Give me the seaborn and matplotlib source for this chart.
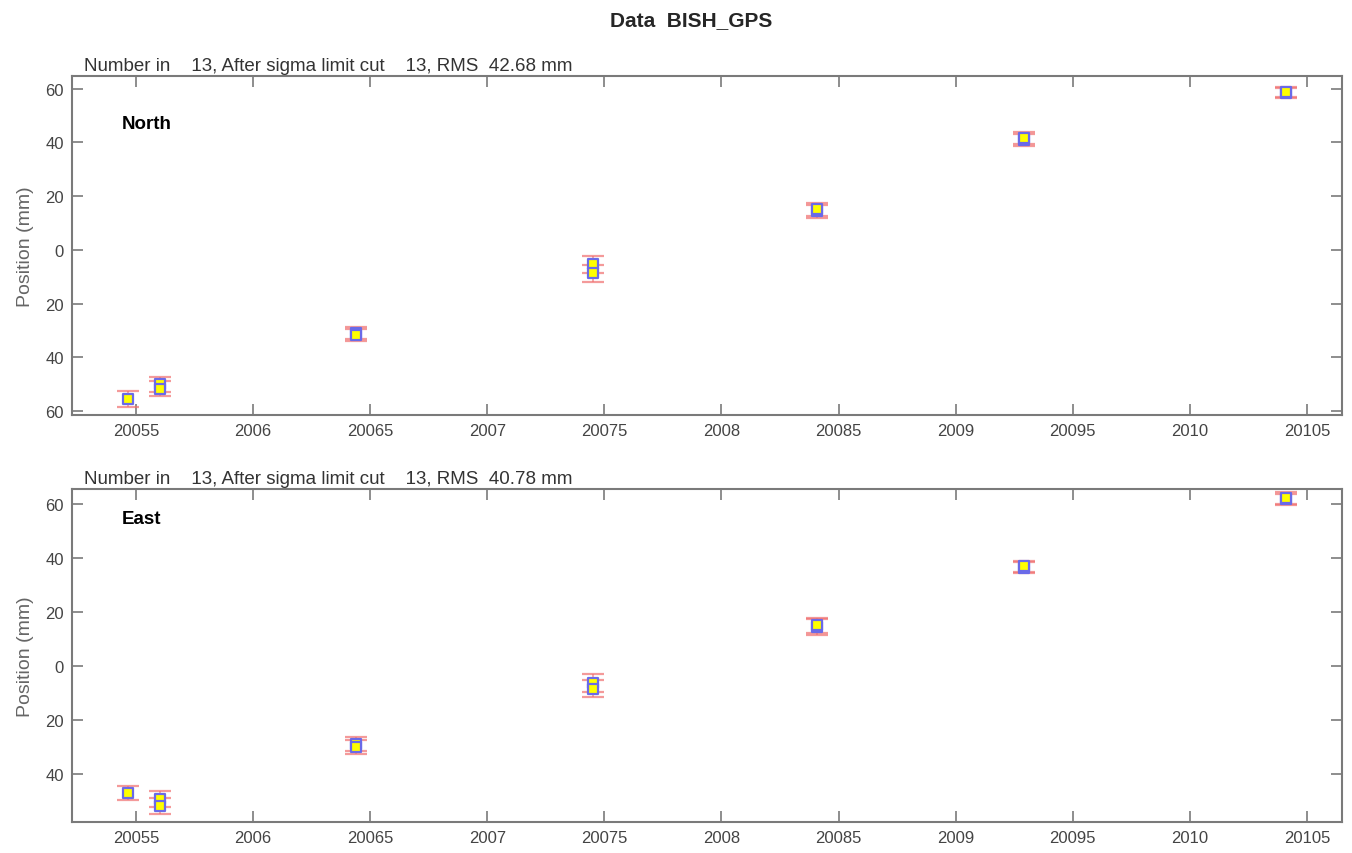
# GPS time series: BISH_GPS North / East positions

import numpy as np
import pandas as pd
import matplotlib
matplotlib.use('Agg')
import matplotlib.pyplot as plt
import seaborn as sns
from matplotlib.ticker import FuncFormatter, MultipleLocator

# Observation epochs (decimal years)
years = [2005.466, 2005.602, 2005.602, 2006.44, 2006.44, 2007.45, 2007.45,
         2008.41, 2008.41, 2009.29, 2009.29, 2010.41, 2010.41]

# North component (mm) and sigma
north = [-55.4, -50.0, -51.6, -30.8, -31.6, -5.4, -8.7,
         14.4, 15.2, 40.8, 41.6, 58.3, 58.8]
north_sig = [2.9, 2.8, 2.8, 2.2, 2.2, 3.2, 3.2, 2.4, 2.4, 2.2, 2.2, 1.8, 1.8]

# East component (mm) and sigma
east = [-47.0, -49.3, -52.0, -29.0, -30.0, -6.3, -8.5,
        14.4, 15.0, 36.3, 36.9, 61.6, 62.3]
east_sig = [2.5, 3.0, 3.0, 2.6, 2.6, 3.2, 3.2, 2.8, 2.8, 2.0, 2.0, 2.2, 2.2]

rms_text = ['Number in    13, After sigma limit cut    13, RMS  42.68 mm',
            'Number in    13, After sigma limit cut    13, RMS  40.78 mm']
comp_names = ['North', 'East']
ylims = [(-61.3, 64.6), (-57.8, 65.5)]

sns.set_style('ticks')
plt.rcParams['font.family'] = ['Liberation Sans', 'DejaVu Sans']

fig = plt.figure(figsize=(13.52, 8.54), dpi=100)
ax_top = fig.add_axes([0.0533, 0.5132, 0.9393, 0.3963])
ax_bot = fig.add_axes([0.0533, 0.0363, 0.9393, 0.3900])

grey = '#7a7a7a'
for ax, vals, sig, txt, name, yl in zip([ax_top, ax_bot], [north, east],
                                         [north_sig, east_sig], rms_text,
                                         comp_names, ylims):
    df = pd.DataFrame({'year': years, 'pos': vals, 'sig': sig})
    ax.errorbar(df['year'], df['pos'], yerr=df['sig'], fmt='none',
                ecolor='#f07070', alpha=0.7, elinewidth=1.2,
                capsize=8, capthick=1.6, zorder=2)
    sns.scatterplot(data=df, x='year', y='pos', marker='s', s=48,
                    color='#ffff00', edgecolor='#6a6ae8', linewidth=1.6,
                    ax=ax, zorder=3, legend=False)

    ax.set_xlim(2005.227, 2010.65)
    ax.set_ylim(*yl)
    ax.xaxis.set_major_locator(MultipleLocator(0.5))
    ax.yaxis.set_major_locator(MultipleLocator(20))
    ax.xaxis.set_major_formatter(FuncFormatter(lambda v, p: f'{v:g}'.replace('.', '')))
    ax.yaxis.set_major_formatter(FuncFormatter(lambda v, p: f'{abs(v):g}'))
    ax.tick_params(direction='in', length=8, width=1.2, color=grey,
                   labelcolor='#444444', labelsize=12, top=True, right=True,
                   pad=6)
    for sp in ax.spines.values():
        sp.set_color(grey)
        sp.set_linewidth(1.5)
        sp.set_visible(True)
    ax.set_xlabel('')
    ax.set_ylabel('Position (mm)', color='#666666', fontsize=14, labelpad=8)
    ax.text(0.0094, 1.006, txt, transform=ax.transAxes, ha='left',
            va='bottom', fontsize=13.5, color='#333333')
    ax.text(0.039, 0.86 if name == 'North' else 0.91, name,
            transform=ax.transAxes, ha='left', va='center', fontsize=13.5,
            fontweight='bold', color='black')

fig.text(0.511, 0.976, 'Data  BISH_GPS', ha='center', va='center',
         fontsize=15, fontweight='bold')

fig.savefig('out.png', dpi=100)
